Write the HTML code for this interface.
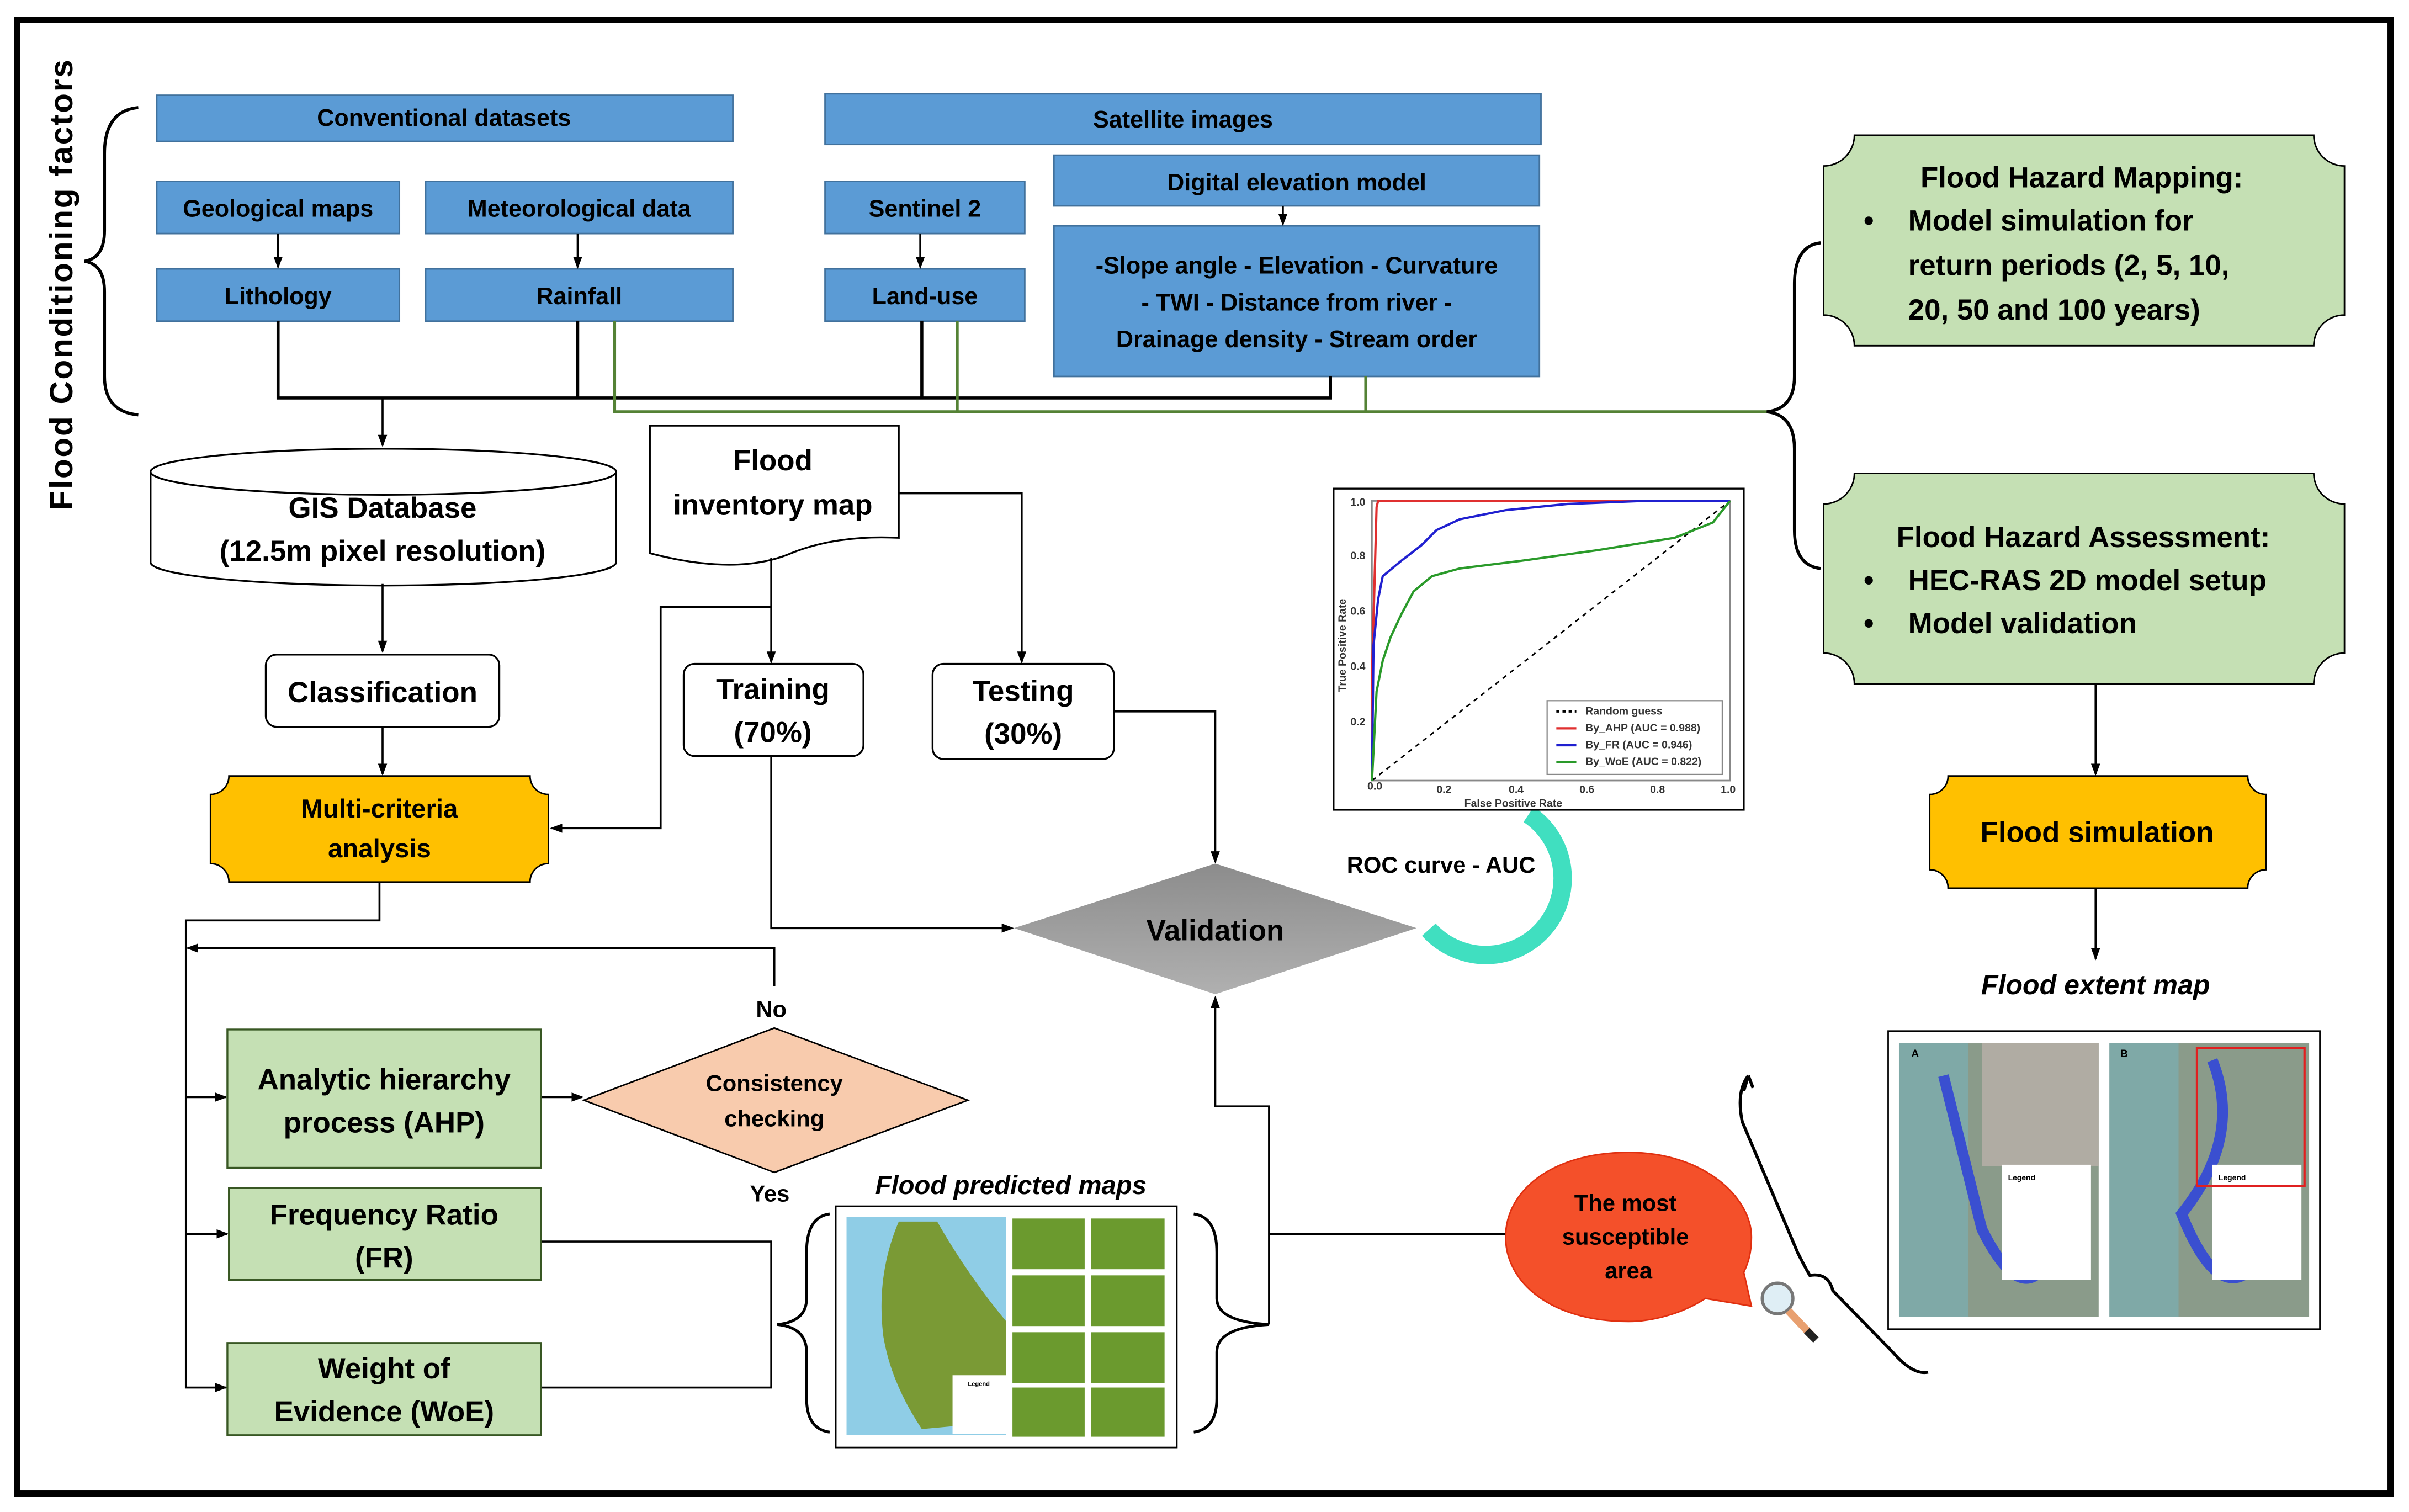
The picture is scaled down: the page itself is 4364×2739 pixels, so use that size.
<!DOCTYPE html>
<html><head><meta charset="utf-8"><style>
html,body{margin:0;padding:0;background:#fff}
svg{display:block}
text{font-family:"Liberation Sans",sans-serif;font-weight:bold}
</style></head><body>
<svg width="4364" height="2739" viewBox="0 0 1568 984" preserveAspectRatio="none" xmlns="http://www.w3.org/2000/svg">
<defs>
<marker id="a" markerWidth="8" markerHeight="8" refX="7" refY="4" orient="auto" markerUnits="userSpaceOnUse"><path d="M0,1 L8,4 L0,7 Z" fill="#000"/></marker>
<linearGradient id="g" x1="0" y1="0" x2="0" y2="1"><stop offset="0" stop-color="#8c8c8c"/><stop offset="1" stop-color="#b0b0b0"/></linearGradient>
</defs>
<rect x="0" y="0" width="1568" height="984" fill="#fff"/>
<rect x="11" y="13" width="1545" height="959" fill="none" stroke="#000" stroke-width="4"/>

<!-- left label -->
<text transform="translate(47,185) rotate(-90)" text-anchor="middle" font-size="21" letter-spacing="1">Flood   Conditioning   factors</text>
<path d="M90,70 Q68,72 68,100 L68,150 Q68,168 55,170 Q68,172 68,190 L68,245 Q68,268 90,270" fill="none" stroke="#000" stroke-width="2"/>

<g fill="#5b9bd5" stroke="#41719c" stroke-width="1">
<rect x="102" y="62" width="375" height="30"/>
<rect x="537" y="61" width="466" height="33"/>
<rect x="102" y="118" width="158" height="34"/>
<rect x="277" y="118" width="200" height="34"/>
<rect x="537" y="118" width="130" height="34"/>
<rect x="686" y="101" width="316" height="33"/>
<rect x="102" y="175" width="158" height="34"/>
<rect x="277" y="175" width="200" height="34"/>
<rect x="537" y="175" width="130" height="34"/>
<rect x="686" y="147" width="316" height="98"/>
</g>
<g font-size="15.5" text-anchor="middle" fill="#000">
<text x="289" y="82">Conventional datasets</text>
<text x="770" y="83">Satellite images</text>
<text x="181" y="141">Geological maps</text>
<text x="377" y="141">Meteorological data</text>
<text x="602" y="141">Sentinel 2</text>
<text x="844" y="124">Digital elevation model</text>
<text x="181" y="198">Lithology</text>
<text x="377" y="198">Rainfall</text>
<text x="602" y="198">Land-use</text>
<text x="844" y="178">-Slope angle - Elevation - Curvature</text>
<text x="844" y="202">- TWI - Distance from river -</text>
<text x="844" y="226">Drainage density - Stream order</text>
</g>
<g stroke="#000" stroke-width="1.3" fill="none">
<line x1="181" y1="152" x2="181" y2="174" marker-end="url(#a)"/>
<line x1="376" y1="152" x2="376" y2="174" marker-end="url(#a)"/>
<line x1="599" y1="152" x2="599" y2="174" marker-end="url(#a)"/>
<line x1="835" y1="134" x2="835" y2="146" marker-end="url(#a)"/>
<polyline points="181,209 181,259 866,259 866,245" stroke-width="2"/>
<line x1="376" y1="209" x2="376" y2="259" stroke-width="2"/>
<line x1="600" y1="209" x2="600" y2="259" stroke-width="2"/>
<line x1="249" y1="259" x2="249" y2="290" marker-end="url(#a)"/>
</g>
<g stroke="#548235" stroke-width="2" fill="none">
<polyline points="400,209 400,268 1152,268"/>
<line x1="623" y1="209" x2="623" y2="268"/>
<line x1="889" y1="245" x2="889" y2="268"/>
</g>
<!-- right brace -->
<path d="M1185,158 Q1168,160 1168,185 L1168,245 Q1168,266 1150,268 Q1168,270 1168,292 L1168,345 Q1168,368 1185,370" fill="none" stroke="#000" stroke-width="2"/>

<!-- plaques -->
<g stroke="#000" stroke-width="1">
<path d="M1207,88 L1506,88 A20,20 0 0 0 1526,108 L1526,205 A20,20 0 0 0 1506,225 L1207,225 A20,20 0 0 0 1187,205 L1187,108 A20,20 0 0 0 1207,88 Z" fill="#c5e0b4"/>
<path d="M1207,308 L1506,308 A20,20 0 0 0 1526,328 L1526,425 A20,20 0 0 0 1506,445 L1207,445 A20,20 0 0 0 1187,425 L1187,328 A20,20 0 0 0 1207,308 Z" fill="#c5e0b4"/>
<path d="M1268,505 L1463,505 A12,12 0 0 0 1475,517 L1475,566 A12,12 0 0 0 1463,578 L1268,578 A12,12 0 0 0 1256,566 L1256,517 A12,12 0 0 0 1268,505 Z" fill="#ffc000"/>
<path d="M149,505 L345,505 A12,12 0 0 0 357,517 L357,562 A12,12 0 0 0 345,574 L149,574 A12,12 0 0 0 137,562 L137,517 A12,12 0 0 0 149,505 Z" fill="#ffc000"/>
</g>
<g font-size="19" fill="#000">
<text x="1355" y="122" text-anchor="middle">Flood Hazard Mapping:</text>
<text x="1213" y="150" font-weight="normal">•</text>
<text x="1242" y="150" font-weight="normal">Model simulation for</text>
<text x="1242" y="179" font-weight="normal">return periods (2, 5, 10,</text>
<text x="1242" y="208" font-weight="normal">20, 50 and 100 years)</text>
<text x="1356" y="356" text-anchor="middle">Flood Hazard Assessment:</text>
<text x="1213" y="384" font-weight="normal">•</text>
<text x="1242" y="384" font-weight="normal">HEC-RAS 2D model setup</text>
<text x="1213" y="412" font-weight="normal">•</text>
<text x="1242" y="412" font-weight="normal">Model validation</text>
<text x="1365" y="548" text-anchor="middle">Flood simulation</text>
<text x="1364" y="647" text-anchor="middle" font-style="italic" font-size="18">Flood extent map</text>
<text x="247" y="532" text-anchor="middle" font-size="17">Multi-criteria</text>
<text x="247" y="558" text-anchor="middle" font-size="17">analysis</text>
</g>
<g stroke="#000" stroke-width="1.3" fill="none">
<line x1="1364" y1="445" x2="1364" y2="504" marker-end="url(#a)"/>
<line x1="1364" y1="578" x2="1364" y2="624" marker-end="url(#a)"/>
</g>

<!-- flood extent map -->
<g>
<rect x="1229" y="671" width="281" height="194" fill="#fff" stroke="#000"/>
<rect x="1236" y="679" width="130" height="178" fill="#8a9b8a"/>
<rect x="1373" y="679" width="130" height="178" fill="#8a9b8a"/>
<rect x="1236" y="679" width="45" height="178" fill="#7fa9a7"/>
<rect x="1373" y="679" width="45" height="178" fill="#7fa9a7"/>
<rect x="1290" y="679" width="76" height="80" fill="#b0aca3"/>
<path d="M1265,700 Q1280,760 1290,800 Q1310,840 1325,830" fill="none" stroke="#3a4fd0" stroke-width="7"/>
<path d="M1440,690 Q1460,740 1420,790 Q1440,840 1460,830" fill="none" stroke="#3a4fd0" stroke-width="7"/>
<rect x="1303" y="758" width="58" height="75" fill="#fff"/>
<rect x="1440" y="758" width="58" height="75" fill="#fff"/>
<rect x="1430" y="682" width="70" height="90" fill="none" stroke="#e02020" stroke-width="1.5"/>
<text x="1244" y="688" font-size="7">A</text><text x="1380" y="688" font-size="7">B</text>
<text x="1307" y="768" font-size="5">Legend</text><text x="1444" y="768" font-size="5">Legend</text>
</g>

<!-- GIS cylinder -->
<path d="M98,307 L98,366 A151,15 0 0 0 401,366 L401,307" fill="#fff" stroke="#000" stroke-width="1.2"/>
<ellipse cx="249.5" cy="307" rx="151.5" ry="15" fill="#fff" stroke="#000" stroke-width="1.2"/>
<text x="249" y="337" font-size="19" text-anchor="middle">GIS Database</text>
<text x="249" y="365" font-size="19" text-anchor="middle">(12.5m pixel resolution)</text>

<!-- flood inventory -->
<path d="M423,277 L585,277 L585,350 Q545,348 515,360 Q480,375 423,360 Z" fill="#fff" stroke="#000" stroke-width="1.2"/>
<text x="503" y="306" font-size="19" text-anchor="middle">Flood</text>
<text x="503" y="335" font-size="19" text-anchor="middle">inventory map</text>

<g stroke="#000" stroke-width="1.3" fill="none">
<line x1="249" y1="380" x2="249" y2="424" marker-end="url(#a)"/>
<polyline points="585,321 665,321 665,431" marker-end="url(#a)"/>
<line x1="502" y1="363" x2="502" y2="431" marker-end="url(#a)"/>
<polyline points="502,395 430,395 430,539 359,539" marker-end="url(#a)"/>
<line x1="249" y1="473" x2="249" y2="504" marker-end="url(#a)"/>
<polyline points="725,463 791,463 791,561" marker-end="url(#a)"/>
<polyline points="502,492 502,604 659,604" marker-end="url(#a)"/>
<polyline points="247,574 247,599 121,599 121,903 147,903" marker-end="url(#a)"/>
<line x1="121" y1="714" x2="147" y2="714" marker-end="url(#a)"/>
<line x1="121" y1="803" x2="148" y2="803" marker-end="url(#a)"/>
<polyline points="504,642 504,617 122,617" marker-end="url(#a)"/>
<line x1="352" y1="714" x2="379" y2="714" marker-end="url(#a)"/>
<polyline points="352,808 502,808 502,903 352,903"/>
<polyline points="826,862 826,720 791,720 791,649" marker-end="url(#a)"/>
<line x1="826" y1="803" x2="982" y2="803"/>
</g>

<rect x="173" y="426" width="152" height="47" rx="7" fill="#fff" stroke="#000" stroke-width="1.2"/>
<text x="249" y="457" font-size="19" text-anchor="middle">Classification</text>
<rect x="445" y="432" width="117" height="60" rx="7" fill="#fff" stroke="#000" stroke-width="1.2"/>
<text x="503" y="455" font-size="19" text-anchor="middle">Training</text>
<text x="503" y="483" font-size="19" text-anchor="middle">(70%)</text>
<rect x="607" y="432" width="118" height="62" rx="7" fill="#fff" stroke="#000" stroke-width="1.2"/>
<text x="666" y="456" font-size="19" text-anchor="middle">Testing</text>
<text x="666" y="484" font-size="19" text-anchor="middle">(30%)</text>

<!-- teal arc -->
<path d="M995,530 A50,50 0 1 1 930,605" fill="none" stroke="#40dfc0" stroke-width="12"/>
<!-- validation -->
<polygon points="660,604 791,562 922,604 791,647" fill="url(#g)"/>
<text x="791" y="612" font-size="19" text-anchor="middle">Validation</text>
<text x="938" y="568" font-size="15" text-anchor="middle">ROC curve - AUC</text>

<!-- ROC chart -->
<g>
<rect x="868" y="318" width="267" height="209" fill="#fff" stroke="#000" stroke-width="1.2"/>
<rect x="893" y="326" width="233" height="182" fill="#fff" stroke="#888" stroke-width="1"/>
<line x1="893" y1="508" x2="1126" y2="326" stroke="#000" stroke-dasharray="3,3" stroke-width="1"/>
<polyline points="893,508 893,440 896,330 897,326 1126,326" fill="none" stroke="#e03030" stroke-width="1.5"/>
<polyline points="893,508 894,420 897,390 900,375 912,365 925,355 935,345 950,338 980,332 1020,328 1070,326 1126,326" fill="none" stroke="#2020d0" stroke-width="1.5"/>
<polyline points="893,508 896,450 900,430 905,415 912,400 920,385 932,375 950,370 990,365 1040,358 1090,350 1115,340 1126,326" fill="none" stroke="#2a9a2a" stroke-width="1.5"/>
<rect x="1007" y="456" width="114" height="48" fill="#fff" stroke="#888" stroke-width="0.8"/>
<g font-size="7" font-weight="normal" fill="#333">
<text x="1032" y="465">Random guess</text>
<text x="1032" y="476">By_AHP (AUC = 0.988)</text>
<text x="1032" y="487">By_FR (AUC = 0.946)</text>
<text x="1032" y="498">By_WoE (AUC = 0.822)</text>
<text x="985" y="525" text-anchor="middle">False Positive Rate</text>
<text x="890" y="514">0.0</text><text x="935" y="516">0.2</text><text x="982" y="516">0.4</text><text x="1028" y="516">0.6</text><text x="1074" y="516">0.8</text><text x="1120" y="516">1.0</text>
<text x="879" y="329">1.0</text><text x="879" y="364">0.8</text><text x="879" y="400">0.6</text><text x="879" y="436">0.4</text><text x="879" y="472">0.2</text>
<text transform="translate(876,420) rotate(-90)" text-anchor="middle">True Positive Rate</text>
</g>
<g stroke-width="1.5"><line x1="1013" y1="463" x2="1026" y2="463" stroke="#000" stroke-dasharray="2,2"/><line x1="1013" y1="474" x2="1026" y2="474" stroke="#e03030"/><line x1="1013" y1="485" x2="1026" y2="485" stroke="#2020d0"/><line x1="1013" y1="496" x2="1026" y2="496" stroke="#2a9a2a"/></g>
</g>

<!-- method boxes -->
<g fill="#c5e0b4" stroke="#385723" stroke-width="1.2">
<rect x="148" y="670" width="204" height="90"/>
<rect x="149" y="773" width="203" height="60"/>
<rect x="148" y="874" width="204" height="60"/>
</g>
<g font-size="19" text-anchor="middle">
<text x="250" y="709">Analytic hierarchy</text>
<text x="250" y="737">process (AHP)</text>
<text x="250" y="797">Frequency Ratio</text>
<text x="250" y="825">(FR)</text>
<text x="250" y="897">Weight of</text>
<text x="250" y="925">Evidence (WoE)</text>
</g>
<polygon points="380,716 504,669 630,716 504,763" fill="#f8cbad" stroke="#000" stroke-width="1"/>
<text x="504" y="710" font-size="15" text-anchor="middle">Consistency</text>
<text x="504" y="733" font-size="15" text-anchor="middle">checking</text>
<text x="502" y="662" font-size="15" text-anchor="middle">No</text>
<text x="501" y="782" font-size="15" text-anchor="middle">Yes</text>

<!-- braces around predicted maps -->
<path d="M540,790 Q525,792 525,815 L525,845 Q525,860 506,862 Q525,864 525,880 L525,910 Q525,930 540,932" fill="none" stroke="#000" stroke-width="1.8"/>
<path d="M777,790 Q792,792 792,815 L792,845 Q792,860 826,862 Q792,864 792,880 L792,910 Q792,930 777,932" fill="none" stroke="#000" stroke-width="1.8"/>
<text x="658" y="777" font-size="17" font-style="italic" text-anchor="middle">Flood predicted maps</text>
<!-- predicted maps image -->
<g>
<rect x="544" y="785" width="222" height="157" fill="#fff" stroke="#000"/>
<rect x="551" y="792" width="104" height="142" fill="#8fcde6"/>
<path d="M585,795 L610,795 Q630,830 655,860 L655,925 L600,930 Q580,900 575,870 Q570,830 585,795 Z" fill="#7a9a35"/>
<g fill="#6b9a2e">
<rect x="659" y="793" width="47" height="33"/><rect x="710" y="793" width="48" height="33"/>
<rect x="659" y="830" width="47" height="33"/><rect x="710" y="830" width="48" height="33"/>
<rect x="659" y="867" width="47" height="33"/><rect x="710" y="867" width="48" height="33"/>
<rect x="659" y="903" width="47" height="32"/><rect x="710" y="903" width="48" height="32"/>
</g>
<rect x="620" y="895" width="35" height="38" fill="#fff"/>
<text x="630" y="902" font-size="4">Legend</text>
</g>

<!-- red bubble -->
<path d="M1060,750 C1110,750 1140,780 1140,805 C1140,815 1138,822 1135,828 L1140,850 L1110,845 C1095,855 1075,860 1060,860 C1010,860 980,835 980,805 C980,775 1010,750 1060,750 Z" fill="#f4502a" stroke="#e03010" stroke-width="1"/>
<text x="1058" y="788" font-size="15" text-anchor="middle">The most</text>
<text x="1058" y="810" font-size="15" text-anchor="middle">susceptible</text>
<text x="1060" y="832" font-size="15" text-anchor="middle">area</text>
<!-- magnifier -->
<circle cx="1157" cy="845" r="10" fill="#dfeef5" stroke="#777" stroke-width="2"/>
<line x1="1164" y1="853" x2="1180" y2="870" stroke="#e8a070" stroke-width="5"/>
<line x1="1176" y1="866" x2="1182" y2="872" stroke="#222" stroke-width="5"/>
<!-- big brace -->
<path d="M1138,700 Q1130,710 1134,730 L1170,815 Q1175,825 1178,830 Q1190,828 1193,840 L1232,880 Q1245,895 1255,893" fill="none" stroke="#000" stroke-width="2"/>
<path d="M1138,700 L1135,710 M1138,700 L1141,708" stroke="#000" stroke-width="2"/>
</svg>
</body></html>
